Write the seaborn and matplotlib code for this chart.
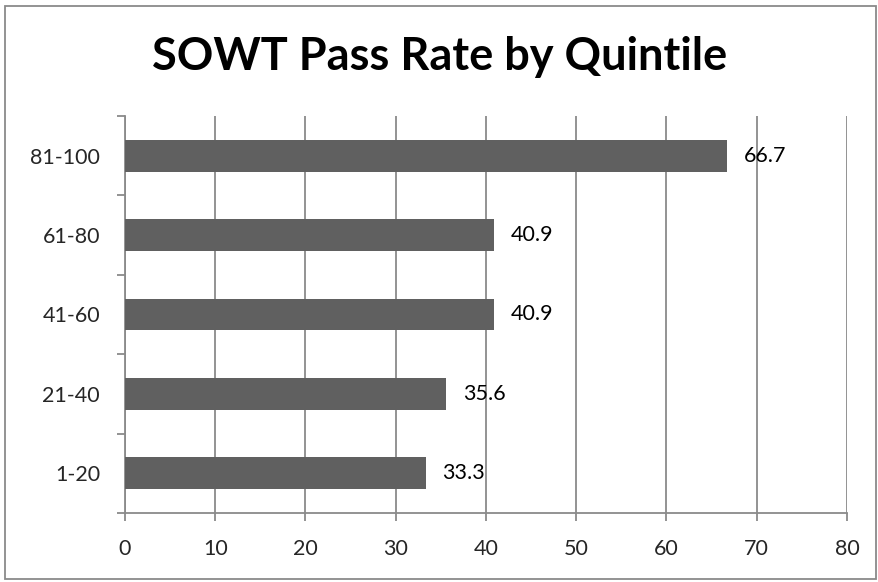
#!/usr/bin/env python3
"""
SOWT pass rate by quintile, horizontal bar chart.
"""
import matplotlib.pyplot as plt
import matplotlib.patches as patches
import seaborn as sns
import pandas as pd

quintiles = ["81-100", "61-80", "41-60", "21-40", "1-20"]
pass_rates = [66.7, 40.9, 40.9, 35.6, 33.3]
x_ticks = [0, 10, 20, 30, 40, 50, 60, 70, 80]

BAR = '#606060'
GRID = '#8a8a8a'

sns.set_style('white')
plt.rcParams['font.family'] = ['Lato', 'DejaVu Sans']

df = pd.DataFrame({'quintile': quintiles, 'rate': pass_rates})

fig = plt.figure(figsize=(8.79, 5.82), dpi=100)
ax = fig.add_axes([125 / 879, 69 / 582, 722 / 879, 397 / 582])

sns.barplot(data=df, x='rate', y='quintile', order=quintiles,
            color=BAR, width=0.4, saturation=1, ax=ax, zorder=3)
for bar in ax.patches:
    bar.set_edgecolor('none')

ax.bar_label(ax.containers[0], labels=[str(v) for v in pass_rates],
             padding=12, fontsize=15.5, color='black')

ax.set_xlim(0, 80)
ax.set_ylim(4.5, -0.5)
ax.set_xticks(x_ticks)
ax.set_xticklabels([str(t) for t in x_ticks])
ax.set_yticks(range(len(quintiles)))
ax.set_yticklabels(quintiles)
ax.set_yticks([i - 0.5 for i in range(len(quintiles) + 1)], minor=True)

ax.xaxis.grid(True, color=GRID, linewidth=1.3, zorder=0)
ax.yaxis.grid(False)
ax.set_axisbelow(True)
ax.set_xlabel('')
ax.set_ylabel('')

for side in ['top', 'right']:
    ax.spines[side].set_visible(False)
for side in ['left', 'bottom']:
    ax.spines[side].set_color(GRID)
    ax.spines[side].set_linewidth(1.3)

ax.tick_params(axis='x', which='major', bottom=True, length=5.5,
               width=1.3, color=GRID, pad=13, labelsize=15.5)
ax.tick_params(axis='y', which='major', left=False, length=0,
               pad=18, labelsize=15.5)
ax.tick_params(axis='y', which='minor', left=True, length=5.5,
               width=1.3, color=GRID)

fig.text(0.5, 1 - 57 / 582, 'SOWT Pass Rate by Quintile',
         ha='center', va='center', fontsize=32.5, fontweight='bold',
         color='black')

fig.patches.append(patches.Rectangle(
    (5 / 879, 3 / 582), 871 / 879, 573 / 582, transform=fig.transFigure,
    fill=False, edgecolor=GRID, linewidth=1.3))

plt.savefig("out.png", dpi=100)
